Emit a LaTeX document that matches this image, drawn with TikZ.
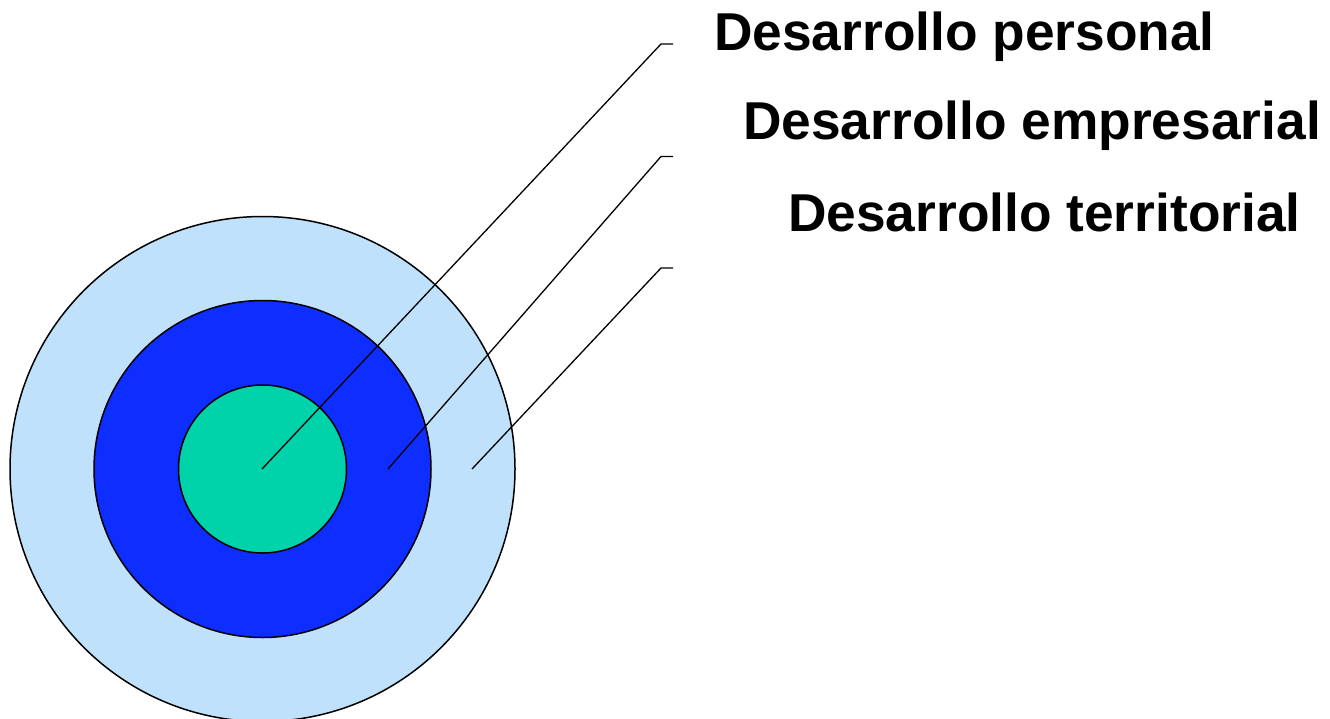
\documentclass[tikz,border=0pt]{standalone}
\usepackage{fontspec}
\setmainfont{Liberation Sans}
\definecolor{ringout}{HTML}{BFE1FB}
\definecolor{ringmid}{HTML}{0D2EFF}
\definecolor{ringin}{HTML}{00D2AA}
\begin{document}
\begin{tikzpicture}[x=1pt,y=-1pt,
  ring/.style={circle,draw=black,line width=1.5pt,inner sep=0pt},
  lead/.style={draw=black,line width=1.3pt},
  label/.style={anchor=base west,inner sep=0pt,font=\fontsize{53.3}{60}\selectfont\bfseries}]
\useasboundingbox (0,0) rectangle (1330,718);
\node[ring,fill=ringout,minimum size=505pt] (outer) at (262.5,469) {};
\node[ring,fill=ringmid,minimum size=337pt] (middle) at (262.5,469) {};
\node[ring,fill=ringin,minimum size=168pt] (inner) at (262.5,469) {};
\coordinate (s1) at (262,469);
\coordinate (s2) at (388,469);
\coordinate (s3) at (472,469);
\coordinate (c1) at (661,44);
\coordinate (c2) at (661,156.5);
\coordinate (c3) at (661,268);
\coordinate (e1) at (673,44);
\coordinate (e2) at (673,156.5);
\coordinate (e3) at (673,268);
\draw[lead] (s1) -- (c1) -- (e1);
\draw[lead] (s2) -- (c2) -- (e2);
\draw[lead] (s3) -- (c3) -- (e3);
\node[label] (t1) at (714,50) {Desarrollo personal};
\node[label] (t2) at (743,139) {Desarrollo empresarial};
\node[label] (t3) at (788,231) {Desarrollo territorial};
\end{tikzpicture}
\end{document}
